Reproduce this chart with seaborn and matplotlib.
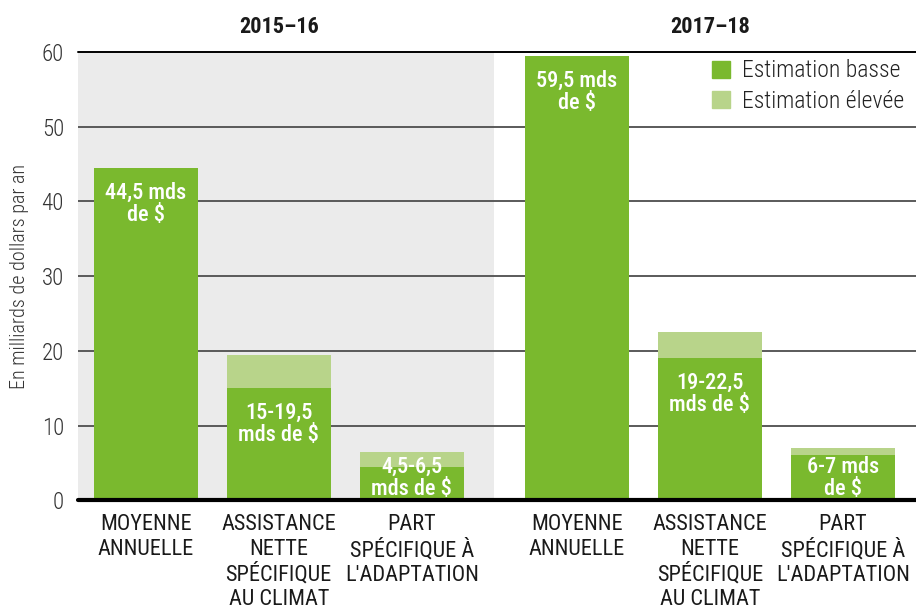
import pandas as pd
import matplotlib
matplotlib.use("Agg")
import matplotlib.pyplot as plt
from matplotlib.patches import Patch
from matplotlib import font_manager
import seaborn as sns

# data (milliards de $ par an)
periods = ["2015–16", "2017–18"]
categories = ["MOYENNE\nANNUELLE",
              "ASSISTANCE\nNETTE\nSPÉCIFIQUE\nAU CLIMAT",
              "PART\nSPÉCIFIQUE À\nL'ADAPTATION"]
low_2015 = [44.5, 15, 4.5]
high_2015 = [44.5, 19.5, 6.5]
low_2017 = [59.5, 19, 6]
high_2017 = [59.5, 22.5, 7]
labels_2015 = ["44,5 mds\nde $", "15-19,5\nmds de $", "4,5-6,5\nmds de $"]
labels_2017 = ["59,5 mds\nde $", "19-22,5\nmds de $", "6-7 mds\nde $"]

green = "#7AB92E"
light_green = "#B8D48A"


def pick_font(cands):
    for c in cands:
        try:
            font_manager.findfont(c, fallback_to_default=False)
            return c
        except ValueError:
            pass
    return "DejaVu Sans"


sns.set_theme(style="white")
main_font = pick_font(["Liberation Sans Narrow", "Roboto Condensed", "DejaVu Sans Condensed", "Roboto"])
plt.rcParams['font.family'] = [main_font, 'DejaVu Sans']

# x layout: two groups of three bars with a wider gap between them
pos = [0, 1, 2, 3.24, 4.24, 5.24]
df = pd.DataFrame({
    "pos": pos,
    "period": [periods[0]] * 3 + [periods[1]] * 3,
    "cat": categories * 2,
    "low": low_2015 + low_2017,
    "high": high_2015 + high_2017,
    "label": labels_2015 + labels_2017,
})

fig = plt.figure(figsize=(9.16, 6.13), dpi=100)
ax = fig.add_axes([0.085, 0.184, 0.915, 0.731])

ax.axvspan(-0.51, 2.62, color="#EBEBEB", zorder=0, lw=0)
for y in range(10, 60, 10):
    ax.axhline(y, color="#5a5a5a", lw=1.4, zorder=1)
ax.axhline(60, color="black", lw=1.4, zorder=1, clip_on=False)

sns.barplot(data=df, x="pos", y="high", native_scale=True, color=light_green,
            saturation=1, width=0.78, errorbar=None, linewidth=0, ax=ax, zorder=2)
sns.barplot(data=df, x="pos", y="low", native_scale=True, color=green,
            saturation=1, width=0.78, errorbar=None, linewidth=0, ax=ax, zorder=3)

ax.axhline(0, color="black", lw=3, zorder=4, clip_on=False)

for _, r in df.iterrows():
    ax.text(r["pos"], max(r["low"] - 4.8, 3.0), r["label"], ha="center", va="center",
            color="white", fontsize=16, fontweight="medium", linespacing=1.0, zorder=5)

for i, p in enumerate(periods):
    ax.text(pos[3 * i + 1], 63.3, p, ha="center", va="center", fontsize=16,
            fontweight="bold", color="#1a1a1a")

ax.set_xlim(-0.51, 5.79)
ax.set_ylim(0, 60)
ax.set_yticks(range(0, 61, 10))
ax.set_xticks(pos)
ax.set_xticklabels(df["cat"], fontsize=16, linespacing=1.22, color="#1a1a1a", va="top")
ax.tick_params(axis="y", labelsize=16.5, colors="#333333", pad=10, length=0)
ax.tick_params(axis="x", pad=10, length=0)
for t in ax.get_yticklabels():
    t.set_fontweight("light")
ax.set_xlabel("")
ax.set_ylabel("En milliards de dollars par an", fontsize=14.5, color="#333333", labelpad=9,
              fontweight="light")
sns.despine(ax=ax, left=True, bottom=True)

handles = [Patch(color=green, label="Estimation basse"),
           Patch(color=light_green, label="Estimation élevée")]
leg = ax.legend(handles=handles, loc="upper right", bbox_to_anchor=(1.0, 1.01), frameon=False,
                fontsize=17, handlelength=0.75, handleheight=0.75, handletextpad=0.5,
                labelspacing=0.3, borderaxespad=0.1, labelcolor="#222222")
for t in leg.get_texts():
    t.set_fontweight("light")

fig.savefig("out.png", dpi=100)
